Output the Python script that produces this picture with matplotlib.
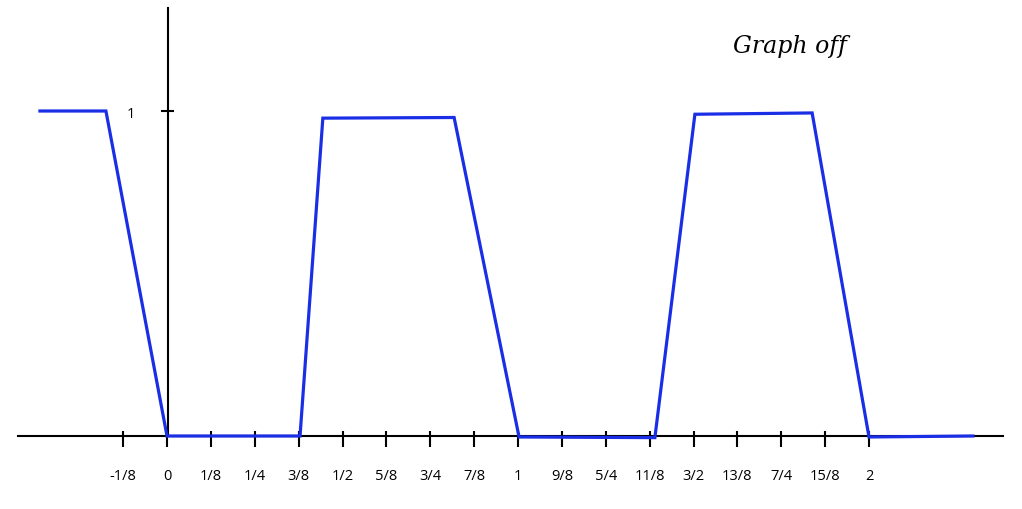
import matplotlib
matplotlib.use("Agg")
import matplotlib.pyplot as plt

# data
line_x = [-0.362, -0.174, 0.0, 0.379, 0.444, 0.818, 1.003, 1.390, 1.504, 1.838, 2.0, 2.296]
line_y = [1.0, 1.0, 0.0, 0.0, 0.978, 0.98, -0.003, -0.005, 0.99, 0.994, -0.003, 0.0]
tick_vals = [-1/8, 0, 1/8, 1/4, 3/8, 1/2, 5/8, 3/4, 7/8, 1, 9/8, 5/4, 11/8, 3/2, 13/8, 7/4, 15/8, 2]
tick_labels = ["-1/8", "0", "1/8", "1/4", "3/8", "1/2", "5/8", "3/4", "7/8", "1",
               "9/8", "5/4", "11/8", "3/2", "13/8", "7/4", "15/8", "2"]
title = "Graph off"

W, H = 1022, 509
fig = plt.figure(figsize=(W / 100, H / 100), dpi=100)
ax = fig.add_axes([0, 0, 1, 1])
pxu_x, pxu_y = 351.0, 325.0
x0px, y0px = 167.0, 436.0
ax.set_xlim(-x0px / pxu_x, (W - x0px) / pxu_x)
ax.set_ylim(-(H - y0px) / pxu_y, y0px / pxu_y)
ax.axis("off")

# axes lines
ax.plot([(18 - x0px) / pxu_x, (1003 - x0px) / pxu_x], [0, 0], color="black", lw=1.5, zorder=1)
ax.plot([0.003, 0.003], [0, (y0px - 8) / pxu_y], color="black", lw=1.5, zorder=1)
# y tick at 1
ax.plot([-5 / pxu_x, 6 / pxu_x], [1, 1], color="black", lw=1.5)
ax.text(-36 / pxu_x, 0.99, "1", ha="center", va="center", fontsize=10.5, family="Open Sans")

# x ticks
ax.vlines(tick_vals, -11 / pxu_y, 5 / pxu_y, color="black", lw=1.5, zorder=1)
for v, lab in zip(tick_vals, tick_labels):
    ax.text(v, -40 / pxu_y, lab, ha="center", va="center", fontsize=10.5, family="Open Sans")

# signal
ax.plot(line_x, line_y, color="#1a2ee6", lw=2.3, zorder=3, solid_joinstyle="miter")

ax.text((790 - x0px) / pxu_x, (y0px - 47) / pxu_y, title, ha="center", va="center",
        fontsize=17, family="DejaVu Serif", style="italic")

fig.savefig("out.png", dpi=100)
